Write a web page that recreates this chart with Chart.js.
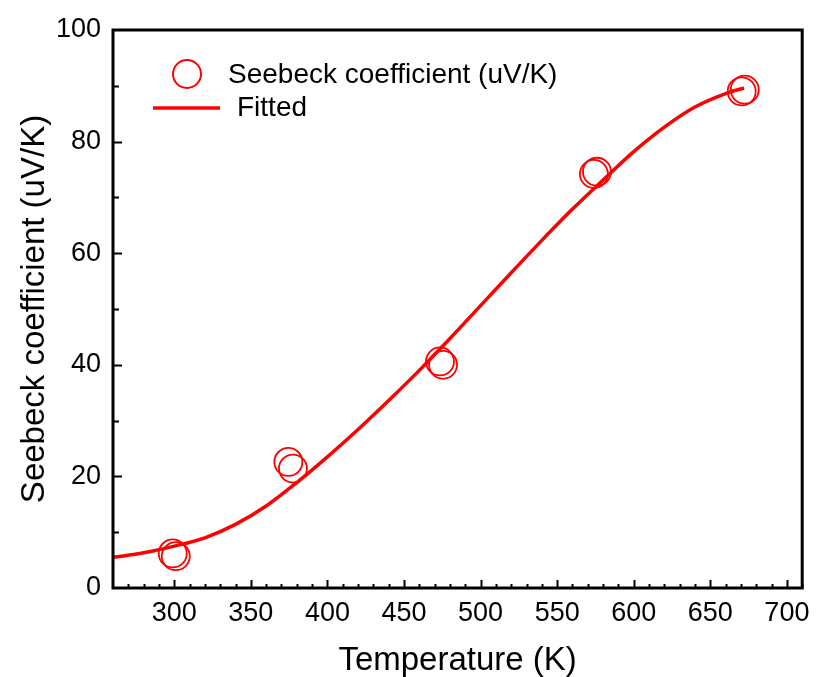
<!DOCTYPE html>
<html>
<head>
<meta charset="utf-8">
<script src="https://cdn.jsdelivr.net/npm/chart.js@4/dist/chart.umd.min.js"></script>
<style>
  body { margin: 0; background: #fff; }
  #wrap { width: 818px; height: 677px; }
</style>
</head>
<body>
<div id="wrap"><canvas id="seebeckChart" width="818" height="677"></canvas></div>
<script>
// measured points (replicates overlap at each temperature)
const measTemps = [299, 301, 374.5, 377.5, 473.5, 475.5, 574, 576, 670.5, 672.5];
const measValues = [6.2, 5.7, 22.6, 21.4, 40.6, 40.0, 74.2, 74.6, 89.0, 89.3];
// fitted curve
const fitTemps = [260, 280, 300, 320, 340, 360, 380, 400, 420, 440, 460, 480, 500, 520, 540, 560, 580, 600, 620, 640, 660, 672];
const fitValues = [5.5, 6.3, 7.5, 9.0, 11.4, 14.7, 18.9, 23.5, 28.4, 33.6, 39.0, 44.7, 50.6, 56.5, 62.3, 67.9, 73.1, 78.2, 82.6, 86.2, 88.6, 89.6];
// axis ticks
const xTickLabels = [300, 350, 400, 450, 500, 550, 600, 650, 700];
const yTickLabels = [0, 20, 40, 60, 80, 100];

const RED = "#ff0000";
const FONT = "'Liberation Sans', Arial, sans-serif";

// frame, inward ticks and the legend
const framePlugin = {
  id: "frame",
  afterDraw(chart) {
    const { ctx, chartArea: a, scales } = chart;
    const xs = scales.x, ys = scales.y;
    ctx.save();
    ctx.strokeStyle = "#000";
    ctx.lineWidth = 2;
    // minor + major ticks on x
    for (let v = 270; v <= 710; v += 10) {
      const px = Math.round(xs.getPixelForValue(v)) + 0.5;
      const len = v % 50 === 0 ? 8 : 4;
      ctx.beginPath();
      ctx.moveTo(px, a.bottom);
      ctx.lineTo(px, a.bottom - len);
      ctx.stroke();
    }
    // minor + major ticks on y
    for (let v = 10; v < 100; v += 10) {
      const py = Math.round(ys.getPixelForValue(v)) + 0.5;
      const len = v % 20 === 0 ? 9 : 6;
      ctx.beginPath();
      ctx.moveTo(a.left, py);
      ctx.lineTo(a.left + len, py);
      ctx.stroke();
    }
    ctx.lineWidth = 3;
    ctx.strokeRect(a.left, a.top, a.right - a.left, a.bottom - a.top);

    // legend
    ctx.strokeStyle = RED;
    ctx.lineWidth = 2;
    ctx.beginPath();
    ctx.arc(187, 74, 14, 0, Math.PI * 2);
    ctx.stroke();
    ctx.lineWidth = 3.5;
    ctx.beginPath();
    ctx.moveTo(153, 108);
    ctx.lineTo(220, 108);
    ctx.stroke();
    ctx.fillStyle = "#000";
    ctx.font = "28px " + FONT;
    ctx.textBaseline = "middle";
    ctx.fillText("Seebeck coefficient (uV/K)", 228, 75);
    ctx.fillText("Fitted", 237, 108);
    ctx.restore();
  }
};

new Chart(document.getElementById("seebeckChart"), {
  type: "scatter",
  data: {
    datasets: [
      {
        label: "Seebeck coefficient (uV/K)",
        data: measTemps.map((t, i) => ({ x: t, y: measValues[i] })),
        pointStyle: "circle",
        pointRadius: 14,
        pointBorderWidth: 1.8,
        pointBackgroundColor: "rgba(0,0,0,0)",
        pointBorderColor: RED,
        showLine: false,
      },
      {
        label: "Fitted",
        data: fitTemps.map((t, i) => ({ x: t, y: fitValues[i] })),
        showLine: true,
        borderColor: RED,
        borderWidth: 3.5,
        pointRadius: 0,
        cubicInterpolationMode: "monotone",
      },
    ],
  },
  options: {
    responsive: false,
    animation: false,
    events: [],
    layout: { padding: { top: 30, right: 11, left: 0, bottom: 0 } },
    plugins: { legend: { display: false }, tooltip: { enabled: false } },
    scales: {
      x: {
        type: "linear",
        min: 260,
        max: 710,
        afterBuildTicks: (s) => { s.ticks = xTickLabels.map((v) => ({ value: v })); },
        afterFit: (s) => { s.height = 89; },
        grid: { display: false },
        border: { display: false },
        ticks: { color: "#000", padding: 1, font: { size: 27, family: FONT } },
        title: {
          display: true,
          text: "Temperature (K)",
          color: "#000",
          padding: { top: 0, bottom: 0 },
          font: { size: 33, family: FONT, lineHeight: 1.0 },
        },
      },
      y: {
        min: 0,
        max: 100,
        afterBuildTicks: (s) => { s.ticks = yTickLabels.map((v) => ({ value: v })); },
        afterFit: (s) => { s.width = 113; },
        grid: { display: false },
        border: { display: false },
        ticks: { color: "#000", padding: 4, font: { size: 27, family: FONT } },
        title: {
          display: true,
          text: "Seebeck coefficient (uV/K)",
          color: "#000",
          padding: { top: 15, bottom: 0 },
          font: { size: 33, family: FONT },
        },
      },
    },
  },
  plugins: [framePlugin],
});
</script>
</body>
</html>
